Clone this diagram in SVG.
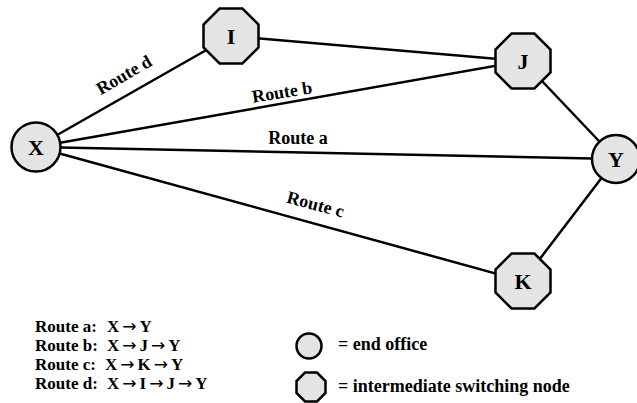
<svg xmlns="http://www.w3.org/2000/svg" width="637" height="403" viewBox="0 0 637 403">
  <style>
    .link { stroke: #000; stroke-width: 2.5; fill: none; }
    .end { fill: #e4e4e4; stroke: #000; stroke-width: 2.5; }
    .sw { fill: #e4e4e4; stroke: #000; stroke-width: 2.5; stroke-linejoin: miter; }
    .lbl { font-family: "Liberation Serif", "Times New Roman", serif; font-weight: bold; fill: #000; }
    .node { font-size: 22px; text-anchor: middle; }
    .route { font-size: 18px; text-anchor: middle; }
    .leg { font-size: 17px; }
    .key { font-size: 18px; }
    .arr { font-family: "DejaVu Sans", sans-serif; font-weight: normal; }
  </style>
  <defs>
    <!-- regular octagon, half-width 27.5 -->
    <polygon id="oct" points="-11.4,-27.5 11.4,-27.5 27.5,-11.4 27.5,11.4 11.4,27.5 -11.4,27.5 -27.5,11.4 -27.5,-11.4"/>
    <polygon id="octSmall" points="-6,-14.5 6,-14.5 14.5,-6 14.5,6 6,14.5 -6,14.5 -14.5,6 -14.5,-6"/>
  </defs>

  <g id="connectors">
    <line class="link" x1="36" y1="147" x2="231" y2="36"/>
    <line class="link" x1="36" y1="147" x2="523" y2="61"/>
    <line class="link" x1="36" y1="147" x2="616" y2="159"/>
    <line class="link" x1="36" y1="147" x2="523" y2="281"/>
    <line class="link" x1="231" y1="36" x2="523" y2="61"/>
    <line class="link" x1="523" y1="61" x2="616" y2="159"/>
    <line class="link" x1="523" y1="281" x2="616" y2="159"/>
  </g>

  <g id="route-labels" class="lbl route">
    <text transform="translate(127,80) rotate(-30)">Route d</text>
    <text transform="translate(283,98) rotate(-9)">Route b</text>
    <text x="298" y="144">Route a</text>
    <text transform="translate(314,210) rotate(15)">Route c</text>
  </g>

  <g id="node-X">
    <circle class="end" cx="36" cy="147" r="24.5"/>
    <text class="lbl node" x="36" y="155">X</text>
  </g>
  <g id="node-Y">
    <circle class="end" cx="616" cy="159" r="24"/>
    <text class="lbl node" x="616" y="167">Y</text>
  </g>
  <g id="node-I">
    <use href="#oct" class="sw" x="231" y="36"/>
    <text class="lbl node" x="231" y="44">I</text>
  </g>
  <g id="node-J">
    <use href="#oct" class="sw" x="523" y="61"/>
    <text class="lbl node" x="523" y="69">J</text>
  </g>
  <g id="node-K">
    <use href="#oct" class="sw" x="523" y="281"/>
    <text class="lbl node" x="523" y="289">K</text>
  </g>

  <g id="legend-routes" class="lbl leg">
    <text x="35" y="332">Route a:</text>
    <text x="107" y="332">X<tspan class="arr" dx="3">→</tspan><tspan dx="3">Y</tspan></text>
    <text x="35" y="351">Route b:</text>
    <text x="107" y="351">X<tspan class="arr" dx="3">→</tspan><tspan dx="3">J</tspan><tspan class="arr" dx="3">→</tspan><tspan dx="3">Y</tspan></text>
    <text x="35" y="370">Route c:</text>
    <text x="105" y="370">X<tspan class="arr" dx="3">→</tspan><tspan dx="3">K</tspan><tspan class="arr" dx="3">→</tspan><tspan dx="3">Y</tspan></text>
    <text x="35" y="389">Route d:</text>
    <text x="107" y="389">X<tspan class="arr" dx="3">→</tspan><tspan dx="3">I</tspan><tspan class="arr" dx="3">→</tspan><tspan dx="3">J</tspan><tspan class="arr" dx="3">→</tspan><tspan dx="3">Y</tspan></text>
  </g>

  <g id="legend-symbols">
    <circle class="end" cx="309" cy="346" r="12.5"/>
    <text class="lbl key" x="338" y="350">= end office</text>
    <use href="#octSmall" class="sw" x="311" y="387"/>
    <text class="lbl key" x="338" y="392">= intermediate switching node</text>
  </g>
</svg>
